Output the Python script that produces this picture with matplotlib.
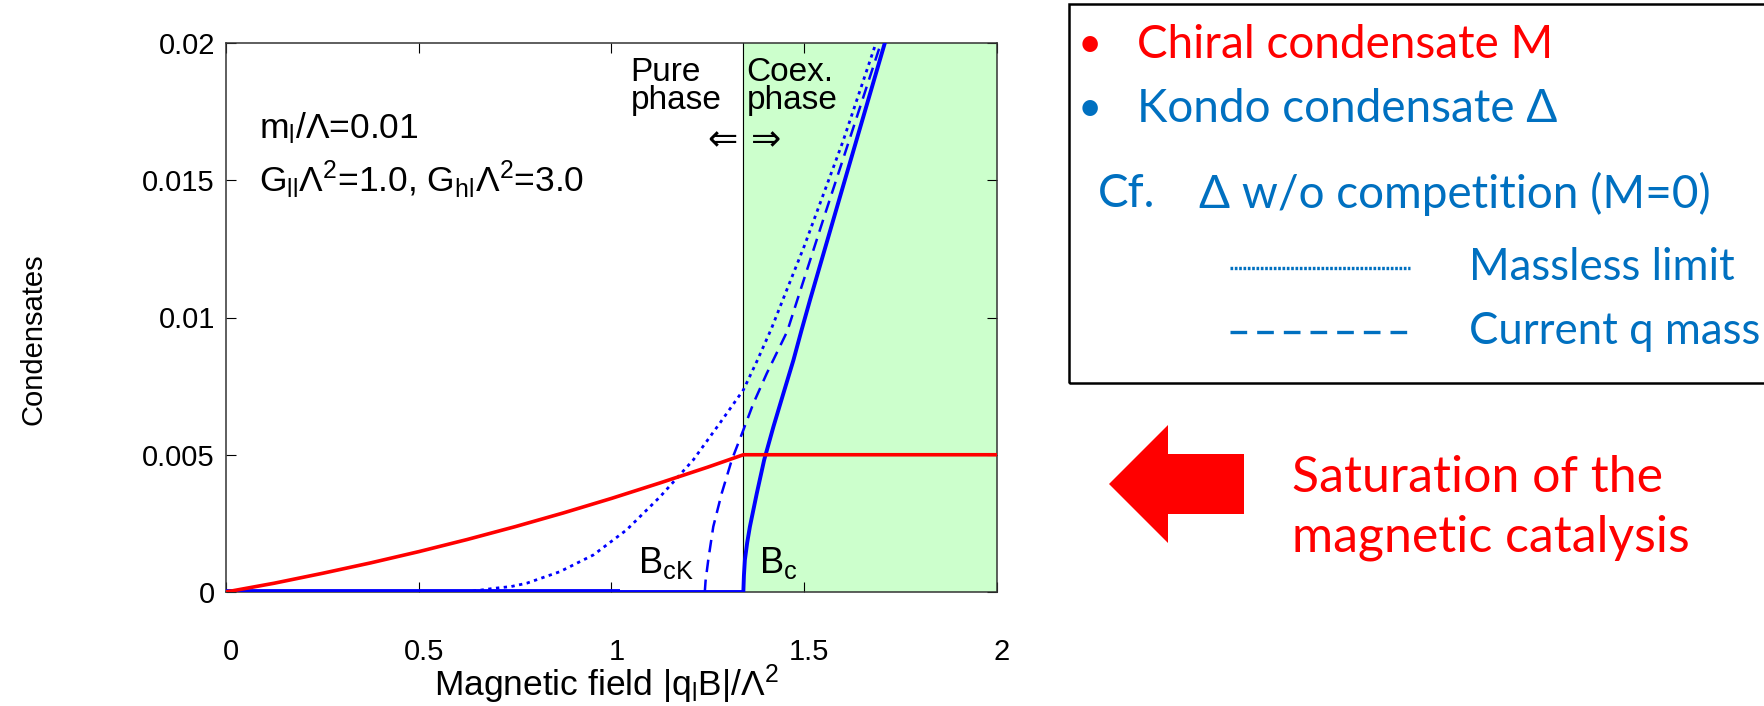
import matplotlib
matplotlib.use('Agg')
import matplotlib.pyplot as plt
import matplotlib.transforms as mtransforms
from matplotlib.patches import Rectangle, Polygon
from matplotlib.lines import Line2D

# data
chiral_x = [0, 0.125, 0.25, 0.375, 0.5, 0.625, 0.75, 0.875, 1.0, 1.125, 1.25, 1.342, 2.0]
chiral_y = [0, 0.00032, 0.00068, 0.00106, 0.00147, 0.00191, 0.00238, 0.00288, 0.00341, 0.00397, 0.00455, 0.005, 0.005]

kondo_x = [0, 1.342, 1.3435, 1.346, 1.352, 1.359, 1.377, 1.396, 1.420, 1.446, 1.472, 1.493, 1.515, 1.6, 1.709]
kondo_y = [0, 0, 0.0006, 0.00117, 0.0018, 0.00238, 0.0036, 0.00481, 0.00602, 0.00724, 0.00845, 0.00954, 0.01064, 0.01475, 0.02]

massless_x = [0.6, 0.64, 0.693, 0.74, 0.78, 0.866, 0.953, 1.039, 1.126, 1.212, 1.281, 1.342, 1.377, 1.415, 1.446, 1.5, 1.6, 1.686]
massless_y = [0, 0.00003, 0.00013, 0.0002, 0.00032, 0.00074, 0.00135, 0.00226, 0.00347, 0.00481, 0.00615, 0.00736, 0.0084, 0.0096, 0.0107, 0.0126, 0.0164, 0.02]

current_x = [1.242, 1.244, 1.251, 1.264, 1.286, 1.312, 1.342, 1.368, 1.403, 1.456, 1.482, 1.55, 1.62, 1.699]
current_y = [0, 0.0004, 0.00117, 0.00238, 0.0036, 0.00481, 0.0059, 0.00687, 0.00797, 0.0095, 0.01064, 0.0136, 0.0166, 0.02]

overlap_x = [0, 1.022]
overlap_y = [0, 0]

B_c = 1.342
xticks = [0, 0.5, 1, 1.5, 2]
xticklabels = ['0', '0.5', '1', '1.5', '2']
yticks = [0, 0.005, 0.01, 0.015, 0.02]
yticklabels = ['0', '0.005', '0.01', '0.015', '0.02']

W, H = 1765, 706
plt.rcParams['mathtext.fontset'] = 'custom'
plt.rcParams['mathtext.rm'] = 'Liberation Sans'
plt.rcParams['mathtext.it'] = 'Liberation Sans'
plt.rcParams['font.family'] = ['Liberation Sans', 'DejaVu Sans']

fig = plt.figure(figsize=(W / 100, H / 100), dpi=100)
ax = fig.add_axes([226 / W, 1 - 592 / H, (997 - 226) / W, (592 - 43) / H])

ax.axvspan(B_c, 2, color='#ccffcc', zorder=0)
ax.axvline(B_c, color='black', lw=0.8, zorder=1)

ax.plot(overlap_x, overlap_y, color='blue', lw=4.2, solid_capstyle='butt', zorder=3)
ax.plot(chiral_x, chiral_y, color='red', lw=2.6, zorder=4)
ax.plot(kondo_x, kondo_y, color='blue', lw=2.8, zorder=3)
ax.plot(massless_x, massless_y, color='blue', lw=2.0, linestyle=(0, (1.2, 1.6)), zorder=3)
ax.plot(current_x, current_y, color='blue', lw=1.8, linestyle=(0, (5, 3)), zorder=3)

ax.set_xlim(0, 2)
ax.set_ylim(0, 0.02)
ax.set_xticks(xticks, xticklabels, fontsize=21)
ax.set_yticks(yticks, yticklabels, fontsize=21)
ax.tick_params(direction='in', length=7, width=0.8, top=True, right=True)
ax.tick_params(axis='x', pad=33)
ax.tick_params(axis='y', pad=8)
# gnuplot-style labels sit a few pixels right of their ticks
shift = mtransforms.ScaledTranslation(5 / 100, 0, fig.dpi_scale_trans)
for lbl in ax.get_xticklabels():
    lbl.set_transform(lbl.get_transform() + shift)
for s in ax.spines.values():
    s.set_linewidth(1.1)
    s.set_color('#333333')

ax.set_xlabel(r'Magnetic field |q$_\mathregular{l}$B|/Λ$^\mathregular{2}$', fontsize=25.5)
ax.xaxis.set_label_coords(0.494, -0.128)
ax.set_ylabel('Condensates', fontsize=21)
ax.yaxis.set_label_coords(-0.232, 0.46)

ax.text(0.086, 0.0169, r'm$_\mathregular{l}$/Λ=0.01', fontsize=25.5, va='center', ha='left')
ax.text(0.086, 0.0150, r'G$_\mathregular{ll}$Λ$^\mathregular{2}$=1.0, G$_\mathregular{hl}$Λ$^\mathregular{2}$=3.0',
        fontsize=25.5, va='center', ha='left')
ax.text(1.285, 0.0195, 'Pure\nphase', fontsize=24, va='top', ha='right', multialignment='left', linespacing=0.9)
ax.text(1.350, 0.0195, 'Coex.\nphase', fontsize=24, va='top', ha='left', multialignment='left', linespacing=0.9)
ax.text(1.326, 0.01645, '⇐', fontsize=26, va='center', ha='right', family=['DejaVu Sans'])
ax.text(1.362, 0.01645, '⇒', fontsize=26, va='center', ha='left', family=['DejaVu Sans'])
ax.text(1.070, 0.00105, r'B$_\mathregular{cK}$', fontsize=26, va='center', ha='left')
ax.text(1.382, 0.00105, r'B$_\mathregular{c}$', fontsize=26, va='center', ha='left')

# right-hand annotation panel
def fx(x):
    return x / W

def fy(y):
    return 1 - y / H

blue = '#0070c0'
red = '#ff0000'
cal = ['Lato', 'DejaVu Sans']

fig.add_artist(Rectangle((fx(1069), fy(383)), fx(1950) - fx(1069), fy(4) - fy(383),
                         transform=fig.transFigure, fill=False, edgecolor='black', lw=1.8, clip_on=False))

fig.text(fx(1090), fy(45), '•', color=red, fontsize=30, family=cal, va='center', ha='center')
fig.text(fx(1137), fy(45), 'Chiral condensate M', color=red, fontsize=33, family=cal, va='center')
fig.text(fx(1090), fy(109), '•', color=blue, fontsize=30, family=cal, va='center', ha='center')
fig.text(fx(1137), fy(109), 'Kondo condensate Δ', color=blue, fontsize=33, family=cal, va='center')
fig.text(fx(1098), fy(194), 'Cf.', color=blue, fontsize=33, family=cal, va='center')
fig.text(fx(1199), fy(194), 'Δ w/o competition (M=0)', color=blue, fontsize=33, family=cal, va='center')

fig.add_artist(Line2D([fx(1230), fx(1410)], [fy(268), fy(268)], transform=fig.transFigure,
                      color=blue, lw=2.4, linestyle=(0, (0.8, 0.5))))
fig.add_artist(Line2D([fx(1230), fx(1410)], [fy(332), fy(332)], transform=fig.transFigure,
                      color=blue, lw=2.4, linestyle=(0, (5.0, 3.0))))
fig.text(fx(1469), fy(268), 'Massless limit', color=blue, fontsize=31.5, family=cal, va='center')
fig.text(fx(1469), fy(332), 'Current q mass', color=blue, fontsize=31.5, family=cal, va='center')

arrow_px = [(1109, 484), (1168, 425), (1168, 454), (1244, 454), (1244, 514), (1168, 514), (1168, 543)]
fig.add_artist(Polygon([(fx(x), fy(y)) for x, y in arrow_px], closed=True, transform=fig.transFigure,
                       facecolor=red, edgecolor='none'))
fig.text(fx(1292), fy(478), 'Saturation of the', color=red, fontsize=36, family=cal, va='center')
fig.text(fx(1292), fy(538), 'magnetic catalysis', color=red, fontsize=36, family=cal, va='center')

fig.savefig('out.png', dpi=100)
